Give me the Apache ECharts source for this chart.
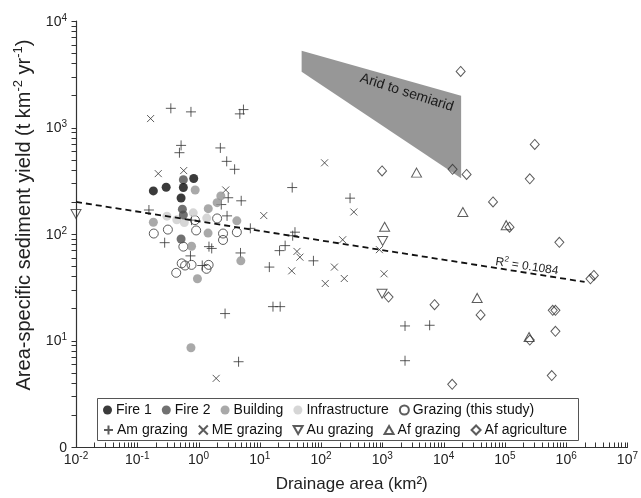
<!DOCTYPE html>
<html>
<head>
<meta charset="utf-8">
<script src="https://cdn.jsdelivr.net/npm/echarts@6/dist/echarts.min.js"></script>
<style>
  html, body { margin: 0; padding: 0; background: #fff; }
  #chart { width: 641px; height: 498px; }
</style>
</head>
<body>
<div id="chart"></div>
<script>
// [drainage area (km2), sediment yield (t km-2 yr-1)]
const fire1 = [[0.834, 332], [0.296, 275], [0.183, 254], [0.565, 273], [0.519, 218]];
const fire2 = [[0.565, 323], [0.545, 171], [0.565, 151], [0.519, 89.8]];
const building = [[0.881, 259], [2.31, 228], [2.01, 197], [1.44, 173], [0.183, 129], [4.22, 133],
  [1.43, 102], [0.769, 76.7], [4.9, 56], [0.959, 38], [0.752, 8.55]];
const infrastructure = [[0.305, 147], [0.442, 136], [0.819, 158], [0.586, 128], [1.36, 141]];
const grazingStudy = [[0.873, 135], [2.01, 140], [0.316, 110], [0.186, 101], [0.914, 108], [2.51, 101],
  [2.51, 87.9], [4.22, 104], [0.565, 76.1], [0.531, 53], [0.603, 50.6], [0.432, 43.2], [0.769, 51.3],
  [1.46, 51.3], [1.35, 47.1]];
const amGrazing = [[0.353, 1514], [0.752, 1402], [4.72, 1343], [5.41, 1473], [0.519, 679], [0.488, 580],
  [2.27, 643], [2.88, 481], [3.88, 405], [3.05, 219], [4.97, 205], [2.35, 189], [0.155, 168], [0.769, 135],
  [2.92, 148], [7.01, 113], [0.28, 82.9], [1.48, 76.1], [1.64, 73.2], [0.738, 62.3], [4.84, 66.4],
  [1.15, 50.6], [2.71, 17.9], [4.5, 6.32], [33.8, 273], [297, 217], [37.5, 104], [34.4, 96.4], [25.9, 77.8],
  [21, 69.8], [75, 56], [14.3, 48.9], [16.4, 20.8], [21.5, 20.8], [2344, 13.7], [5916, 13.9], [2344, 6.46]];
const meGrazing = [[0.165, 1213], [0.22, 369], [0.572, 394], [2.78, 259], [114, 466], [11.6, 149], [342, 161],
  [225, 88.3], [40.4, 68.6], [45.1, 60.6], [33.2, 45.1], [165, 48.9], [239, 38.2], [117, 34.3], [895, 71.3],
  [1065, 42.3], [1.94, 4.41]];
const auGrazing = [[0.01, 154], [1012, 86], [989, 27.5]];
const afGrazing = [[3614, 377], [20600, 161], [1089, 117], [105000, 121], [35300, 25.1], [248000, 10.8]];
const afAgriculture = [[18970, 3360], [989, 391], [14000, 405], [23700, 362], [307000, 693], [255000, 330],
  [64000, 200], [119000, 116], [774000, 83.6], [2490000, 38], [2830000, 40.8], [1262, 25.6], [7110, 21.7],
  [40100, 17.4], [604000, 19.2], [668000, 19.2], [668000, 12.2], [255000, 10.1], [582000, 4.68], [13800, 3.88]];

// power-law fit, end points
const fitLine = [[0.01, 200], [2.0e6, 35.5]];
const fitLabelPos = [230000, 50.5];

// arid to semiarid envelope
const aridX = [48.1, 19300, 19300, 48.1];
const aridY = [5244, 1991, 334, 3337];
const aridLabelPos = [2500, 2124];

const xMin = 0.01, xMax = 1e7;
const yMin = 1, yMax = 1e4;

// 1..9 x 10^e tick values between two powers of ten
function logTicks(lo, hi) {
  const out = [];
  for (let p = lo; p < hi; p *= 10) {
    for (let k = 1; k <= 9; k++) out.push(+(k * p).toPrecision(3));
  }
  out.push(hi);
  return out;
}
const xTicks = logTicks(xMin, xMax);
const yTicks = logTicks(yMin, yMax);

const FONT = '"Liberation Sans", Arial, sans-serif';
const INK = '#333';
const TICK_LEN = 5;

const supRich = {
  b: { fontSize: 14, fontFamily: FONT, color: '#222', lineHeight: 16, verticalAlign: 'bottom' },
  s: { fontSize: 10, fontFamily: FONT, color: '#222', lineHeight: 16, verticalAlign: 'top' }
};

function powLabel(v) {
  const e = Math.round(Math.log10(v));
  return '{b|10}{s|' + e + '}';
}

function scatter(name, data, symbol, size, filled, color) {
  return {
    name: name,
    type: 'scatter',
    data: data,
    symbol: symbol,
    symbolSize: size,
    silent: true,
    itemStyle: filled
      ? { color: color, borderWidth: 0 }
      : { color: 'transparent', borderColor: INK, borderWidth: 1 }
  };
}

// axis ticks drawn at 1..9 x 10^n through the axis scale
function tickSeries(name, ticks, isX) {
  return {
    name: name,
    type: 'custom',
    silent: true,
    clip: false,
    z: 5,
    data: ticks.map(function (v) { return isX ? [v, yMin] : [xMin, v]; }),
    renderItem: function (params, api) {
      const p = api.coord([api.value(0), api.value(1)]);
      const x = Math.round(p[0]) + 0.5, y = Math.round(p[1]) + 0.5;
      const shape = isX
        ? { x1: x, y1: y, x2: x, y2: y - TICK_LEN }
        : { x1: x - TICK_LEN, y1: y, x2: x, y2: y };
      return { type: 'line', shape: shape, style: { stroke: INK, lineWidth: 1 } };
    }
  };
}

const names1 = ['Fire 1', 'Fire 2', 'Building', 'Infrastructure', 'Grazing (this study)'];
const names2 = ['Am grazing', 'ME grazing', 'Au grazing', 'Af grazing', 'Af agriculture'];

const legendBase = {
  left: 103,
  itemWidth: 9,
  itemHeight: 9,
  itemGap: 10,
  padding: 0,
  selectedMode: false,
  textStyle: { fontSize: 14, fontFamily: FONT, color: '#111', padding: [0, 0, 0, -1] }
};

const chart = echarts.init(document.getElementById('chart'));
chart.setOption({
  animation: false,
  backgroundColor: '#fff',
  grid: { left: 76, right: 5, top: 21, bottom: 49 },
  legend: [
    Object.assign({}, legendBase, { data: names1, top: 403 }),
    Object.assign({}, legendBase, { data: names2, top: 423 })
  ],
  graphic: [{
    type: 'rect',
    shape: { x: 97.5, y: 398.5, width: 481, height: 42 },
    style: { fill: 'none', stroke: '#555', lineWidth: 1 },
    z: 10
  }],
  xAxis: {
    type: 'log',
    logBase: 10,
    min: xMin,
    max: xMax,
    interval: 1,
    name: 'Drainage area (km²)',
    nameLocation: 'middle',
    nameGap: 29,
    nameTextStyle: { fontSize: 17, fontFamily: FONT, color: '#222' },
    axisLine: { onZero: false, lineStyle: { color: INK, width: 1.2 } },
    axisTick: { show: false },
    axisLabel: { formatter: powLabel, rich: supRich, margin: 4, showMinLabel: true, showMaxLabel: true },
    splitLine: { show: false }
  },
  yAxis: {
    type: 'log',
    logBase: 10,
    min: yMin,
    max: yMax,
    interval: 1,
    name: '{a|Area-specific sediment yield (t km}{s|-2}{a| yr}{s|-1}{a|)}',
    nameLocation: 'middle',
    nameRotate: 90,
    nameGap: 27,
    nameTextStyle: {
      padding: [0, 0, 0, 38],
      rich: {
        a: { fontSize: 20, fontFamily: FONT, color: '#222', lineHeight: 23, verticalAlign: 'bottom' },
        s: { fontSize: 13, fontFamily: FONT, color: '#222', lineHeight: 23, verticalAlign: 'top' }
      }
    },
    axisLine: { onZero: false, lineStyle: { color: INK, width: 1.2 } },
    axisTick: { show: false },
    axisLabel: {
      formatter: function (v) { return v === 1 ? '{b|0}' : powLabel(v); },
      rich: supRich,
      margin: 9,
      showMinLabel: true,
      showMaxLabel: true
    },
    splitLine: { show: false }
  },
  series: [
    {
      name: 'arid',
      type: 'custom',
      silent: true,
      z: 1,
      data: [[aridX[0], aridY[0]]],
      renderItem: function (params, api) {
        const pts = aridX.map(function (x, i) { return api.coord([x, aridY[i]]); });
        const c = api.coord(aridLabelPos);
        return {
          type: 'group',
          children: [
            { type: 'polygon', shape: { points: pts }, style: { fill: '#979797' } },
            {
              type: 'text', x: c[0], y: c[1], rotation: -0.31,
              style: {
                text: 'Arid to semiarid', font: '14px ' + FONT, fill: '#1a1a1a',
                align: 'center', verticalAlign: 'middle'
              }
            }
          ]
        };
      }
    },
    {
      name: 'fit',
      type: 'line',
      data: fitLine,
      symbol: 'none',
      silent: true,
      z: 3,
      lineStyle: { color: '#111', width: 1.8, type: [6, 4] }
    },
    {
      name: 'fitLabel',
      type: 'custom',
      silent: true,
      z: 4,
      data: [fitLabelPos],
      renderItem: function (params, api) {
        const c = api.coord(fitLabelPos);
        return {
          type: 'text', x: c[0], y: c[1], rotation: -0.15,
          style: {
            text: '{a|R}{s|2}{a| = 0.1084}',
            rich: {
              a: { fontSize: 12, fontFamily: FONT, fill: '#222', lineHeight: 14, verticalAlign: 'bottom' },
              s: { fontSize: 8, fontFamily: FONT, fill: '#222', lineHeight: 14, verticalAlign: 'top' }
            },
            align: 'center', verticalAlign: 'middle'
          }
        };
      }
    },
    tickSeries('xTicks', xTicks, true),
    tickSeries('yTicks', yTicks, false),
    scatter('Grazing (this study)', grazingStudy, 'circle', 9, false),
    scatter('Am grazing', amGrazing, 'path://M5,0V10M0,5H10', 10, false),
    scatter('ME grazing', meGrazing, 'path://M0,0L10,10M10,0L0,10', 7, false),
    scatter('Au grazing', auGrazing, 'path://M0,0H10L5,8.66Z', [10, 9], false),
    scatter('Af grazing', afGrazing, 'path://M5,0L10,8.66H0Z', [10, 9], false),
    scatter('Af agriculture', afAgriculture, 'diamond', [9, 10], false),
    scatter('Infrastructure', infrastructure, 'circle', 9, true, '#cccccc'),
    scatter('Building', building, 'circle', 9, true, '#939393'),
    scatter('Fire 2', fire2, 'circle', 9, true, '#4d4d4d'),
    scatter('Fire 1', fire1, 'circle', 9, true, '#0a0a0a')
  ]
});
</script>
</body>
</html>
